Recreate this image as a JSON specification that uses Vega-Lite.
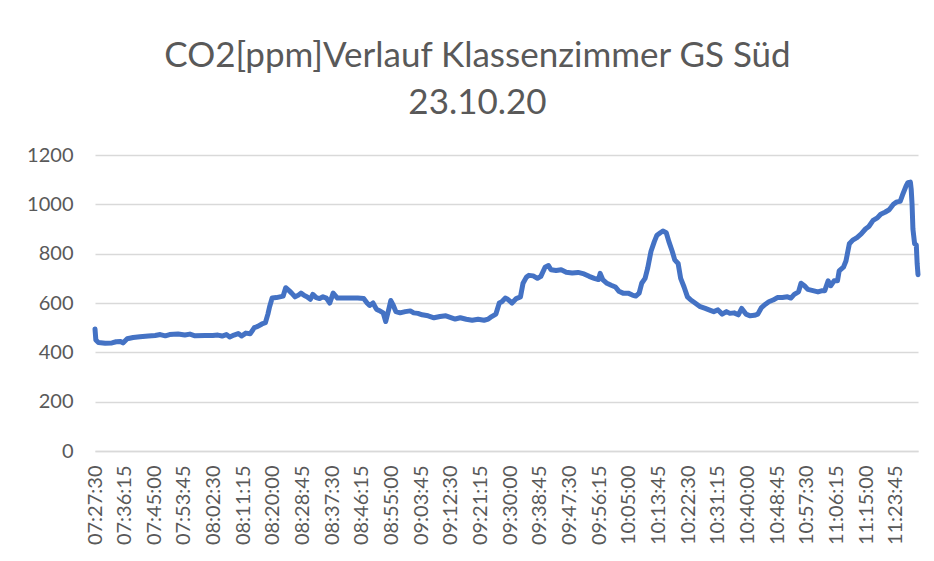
{
  "$schema": "https://vega.github.io/schema/vega-lite/v6.json",
  "width": 823,
  "height": 296,
  "autosize": {"type": "none"},
  "padding": {"left": 95, "top": 155, "right": 16, "bottom": 110},
  "background": "white",
  "title": {
    "text": ["CO2[ppm]Verlauf Klassenzimmer GS Süd", "23.10.20"],
    "font": "Lato",
    "fontSize": 35,
    "fontWeight": "normal",
    "color": "#595959",
    "lineHeight": 47,
    "anchor": "middle",
    "dx": -29,
    "offset": 24
  },
  "config": {
    "view": {"stroke": null},
    "axis": {"labelFont": "Lato", "labelFontSize": 20, "labelColor": "#595959"}
  },
  "data": {
    "format": {"parse": {"t": "date:'%H:%M:%S'"}},
    "values": [
      {"t": "07:27:30", "co2": 495}, {"t": "07:27:45", "co2": 450}, {"t": "07:28:30", "co2": 440},
      {"t": "07:30:30", "co2": 437}, {"t": "07:32:30", "co2": 438}, {"t": "07:33:45", "co2": 443},
      {"t": "07:35:00", "co2": 444}, {"t": "07:35:45", "co2": 438}, {"t": "07:37:00", "co2": 455},
      {"t": "07:38:45", "co2": 460}, {"t": "07:40:45", "co2": 463}, {"t": "07:43:15", "co2": 466},
      {"t": "07:45:15", "co2": 468}, {"t": "07:46:45", "co2": 472}, {"t": "07:48:15", "co2": 467},
      {"t": "07:49:30", "co2": 472}, {"t": "07:52:00", "co2": 474}, {"t": "07:54:00", "co2": 470},
      {"t": "07:55:30", "co2": 474}, {"t": "07:57:00", "co2": 467}, {"t": "08:00:00", "co2": 468},
      {"t": "08:02:15", "co2": 468}, {"t": "08:03:45", "co2": 470}, {"t": "08:05:00", "co2": 466},
      {"t": "08:06:15", "co2": 472}, {"t": "08:07:15", "co2": 462}, {"t": "08:08:30", "co2": 470},
      {"t": "08:09:45", "co2": 476}, {"t": "08:10:45", "co2": 466}, {"t": "08:12:00", "co2": 478},
      {"t": "08:13:15", "co2": 475}, {"t": "08:14:30", "co2": 500}, {"t": "08:15:30", "co2": 505},
      {"t": "08:16:45", "co2": 515}, {"t": "08:17:45", "co2": 520}, {"t": "08:18:30", "co2": 555},
      {"t": "08:19:00", "co2": 585}, {"t": "08:19:45", "co2": 620}, {"t": "08:21:00", "co2": 622},
      {"t": "08:22:00", "co2": 625}, {"t": "08:23:00", "co2": 628}, {"t": "08:23:45", "co2": 662},
      {"t": "08:24:45", "co2": 650}, {"t": "08:25:30", "co2": 640}, {"t": "08:26:30", "co2": 625},
      {"t": "08:27:30", "co2": 632}, {"t": "08:28:15", "co2": 640}, {"t": "08:29:15", "co2": 630},
      {"t": "08:30:00", "co2": 625}, {"t": "08:31:00", "co2": 615}, {"t": "08:31:45", "co2": 635},
      {"t": "08:32:45", "co2": 622}, {"t": "08:33:45", "co2": 618}, {"t": "08:34:45", "co2": 625},
      {"t": "08:35:45", "co2": 620}, {"t": "08:36:45", "co2": 600}, {"t": "08:37:45", "co2": 640},
      {"t": "08:39:00", "co2": 620}, {"t": "08:40:15", "co2": 620}, {"t": "08:42:45", "co2": 620},
      {"t": "08:45:00", "co2": 620}, {"t": "08:46:45", "co2": 618}, {"t": "08:47:45", "co2": 600},
      {"t": "08:48:30", "co2": 590}, {"t": "08:49:30", "co2": 600}, {"t": "08:50:30", "co2": 575},
      {"t": "08:51:15", "co2": 570}, {"t": "08:52:30", "co2": 560}, {"t": "08:53:15", "co2": 525},
      {"t": "08:54:15", "co2": 580}, {"t": "08:54:45", "co2": 610}, {"t": "08:55:30", "co2": 590},
      {"t": "08:56:15", "co2": 565}, {"t": "08:57:30", "co2": 560}, {"t": "08:59:00", "co2": 565},
      {"t": "09:00:30", "co2": 568}, {"t": "09:01:30", "co2": 560}, {"t": "09:02:45", "co2": 558},
      {"t": "09:04:00", "co2": 552}, {"t": "09:05:45", "co2": 548}, {"t": "09:07:30", "co2": 540},
      {"t": "09:09:15", "co2": 545}, {"t": "09:11:00", "co2": 548}, {"t": "09:12:15", "co2": 542},
      {"t": "09:13:45", "co2": 535}, {"t": "09:15:15", "co2": 540}, {"t": "09:17:00", "co2": 534},
      {"t": "09:18:45", "co2": 530}, {"t": "09:20:30", "co2": 534}, {"t": "09:22:15", "co2": 530},
      {"t": "09:23:30", "co2": 535}, {"t": "09:24:30", "co2": 545}, {"t": "09:25:45", "co2": 555},
      {"t": "09:26:45", "co2": 600}, {"t": "09:27:30", "co2": 605}, {"t": "09:28:30", "co2": 620},
      {"t": "09:29:15", "co2": 615}, {"t": "09:30:30", "co2": 600}, {"t": "09:31:45", "co2": 618},
      {"t": "09:33:00", "co2": 625}, {"t": "09:33:45", "co2": 680}, {"t": "09:34:45", "co2": 705},
      {"t": "09:35:30", "co2": 712}, {"t": "09:36:45", "co2": 710}, {"t": "09:38:00", "co2": 700},
      {"t": "09:39:00", "co2": 708}, {"t": "09:40:15", "co2": 745}, {"t": "09:41:15", "co2": 752},
      {"t": "09:42:00", "co2": 735}, {"t": "09:43:30", "co2": 732}, {"t": "09:45:00", "co2": 735},
      {"t": "09:46:30", "co2": 725}, {"t": "09:48:15", "co2": 722}, {"t": "09:50:00", "co2": 724},
      {"t": "09:51:45", "co2": 718}, {"t": "09:53:15", "co2": 708}, {"t": "09:54:45", "co2": 700},
      {"t": "09:56:00", "co2": 695}, {"t": "09:56:30", "co2": 720}, {"t": "09:57:15", "co2": 695},
      {"t": "09:58:30", "co2": 680}, {"t": "09:59:45", "co2": 672}, {"t": "10:01:00", "co2": 665},
      {"t": "10:02:00", "co2": 648}, {"t": "10:03:15", "co2": 640}, {"t": "10:04:45", "co2": 640},
      {"t": "10:06:00", "co2": 632}, {"t": "10:07:00", "co2": 628}, {"t": "10:08:00", "co2": 640},
      {"t": "10:08:45", "co2": 680}, {"t": "10:09:45", "co2": 700}, {"t": "10:10:30", "co2": 740},
      {"t": "10:11:30", "co2": 810}, {"t": "10:12:30", "co2": 850}, {"t": "10:13:15", "co2": 875},
      {"t": "10:14:15", "co2": 885}, {"t": "10:15:00", "co2": 892}, {"t": "10:16:00", "co2": 885},
      {"t": "10:16:45", "co2": 850}, {"t": "10:17:45", "co2": 810}, {"t": "10:18:30", "co2": 775},
      {"t": "10:19:30", "co2": 760}, {"t": "10:20:15", "co2": 700}, {"t": "10:21:15", "co2": 665},
      {"t": "10:22:15", "co2": 625}, {"t": "10:23:15", "co2": 612}, {"t": "10:24:30", "co2": 600},
      {"t": "10:26:00", "co2": 585}, {"t": "10:27:30", "co2": 578}, {"t": "10:29:00", "co2": 570},
      {"t": "10:30:00", "co2": 565}, {"t": "10:31:15", "co2": 572}, {"t": "10:32:30", "co2": 555},
      {"t": "10:33:45", "co2": 565}, {"t": "10:34:45", "co2": 558}, {"t": "10:36:00", "co2": 560},
      {"t": "10:37:15", "co2": 552}, {"t": "10:38:15", "co2": 578}, {"t": "10:39:30", "co2": 555},
      {"t": "10:40:45", "co2": 548}, {"t": "10:42:00", "co2": 550}, {"t": "10:43:00", "co2": 555},
      {"t": "10:44:00", "co2": 580}, {"t": "10:45:15", "co2": 595}, {"t": "10:46:15", "co2": 605},
      {"t": "10:47:30", "co2": 612}, {"t": "10:48:45", "co2": 622}, {"t": "10:50:15", "co2": 622},
      {"t": "10:51:45", "co2": 625}, {"t": "10:52:45", "co2": 620}, {"t": "10:53:45", "co2": 635},
      {"t": "10:55:00", "co2": 645}, {"t": "10:55:45", "co2": 680}, {"t": "10:56:45", "co2": 670},
      {"t": "10:57:45", "co2": 655}, {"t": "10:59:15", "co2": 650}, {"t": "11:00:45", "co2": 645},
      {"t": "11:02:00", "co2": 650}, {"t": "11:02:45", "co2": 650}, {"t": "11:03:45", "co2": 690},
      {"t": "11:04:30", "co2": 670}, {"t": "11:05:30", "co2": 690}, {"t": "11:06:30", "co2": 690},
      {"t": "11:07:00", "co2": 730}, {"t": "11:08:15", "co2": 745}, {"t": "11:09:00", "co2": 770},
      {"t": "11:10:00", "co2": 840}, {"t": "11:11:00", "co2": 855}, {"t": "11:12:15", "co2": 865},
      {"t": "11:13:30", "co2": 880}, {"t": "11:14:45", "co2": 900}, {"t": "11:15:45", "co2": 910},
      {"t": "11:17:00", "co2": 935}, {"t": "11:18:15", "co2": 945}, {"t": "11:19:15", "co2": 960},
      {"t": "11:20:30", "co2": 968}, {"t": "11:21:45", "co2": 978}, {"t": "11:23:00", "co2": 1000},
      {"t": "11:24:00", "co2": 1010}, {"t": "11:25:00", "co2": 1012}, {"t": "11:25:45", "co2": 1040},
      {"t": "11:26:45", "co2": 1075}, {"t": "11:27:15", "co2": 1088}, {"t": "11:28:00", "co2": 1090},
      {"t": "11:28:15", "co2": 1060}, {"t": "11:28:30", "co2": 1000}, {"t": "11:28:45", "co2": 900},
      {"t": "11:29:15", "co2": 840}, {"t": "11:29:45", "co2": 835}, {"t": "11:30:00", "co2": 760},
      {"t": "11:30:15", "co2": 715}
    ]
  },
  "mark": {"type": "line", "color": "#4472C4", "strokeWidth": 5, "strokeJoin": "round", "strokeCap": "round"},
  "encoding": {
    "x": {
      "field": "t",
      "type": "temporal",
      "title": null,
      "scale": {
        "nice": false,
        "domain": [
          {"year": 1900, "month": 1, "date": 1, "hours": 7, "minutes": 27, "seconds": 30},
          {"year": 1900, "month": 1, "date": 1, "hours": 11, "minutes": 30, "seconds": 15}
        ]
      },
      "axis": {
        "format": "%H:%M:%S",
        "labelAngle": -90,
        "labelPadding": 14,
        "ticks": false,
        "grid": false,
        "domainColor": "#d9d9d9",
        "domainWidth": 1.5,
        "labelOverlap": false,
        "labelFlush": false,
        "values": [
          {"year": 1900, "month": 1, "date": 1, "hours": 7, "minutes": 27, "seconds": 30},
          {"year": 1900, "month": 1, "date": 1, "hours": 7, "minutes": 36, "seconds": 15},
          {"year": 1900, "month": 1, "date": 1, "hours": 7, "minutes": 45, "seconds": 0},
          {"year": 1900, "month": 1, "date": 1, "hours": 7, "minutes": 53, "seconds": 45},
          {"year": 1900, "month": 1, "date": 1, "hours": 8, "minutes": 2, "seconds": 30},
          {"year": 1900, "month": 1, "date": 1, "hours": 8, "minutes": 11, "seconds": 15},
          {"year": 1900, "month": 1, "date": 1, "hours": 8, "minutes": 20, "seconds": 0},
          {"year": 1900, "month": 1, "date": 1, "hours": 8, "minutes": 28, "seconds": 45},
          {"year": 1900, "month": 1, "date": 1, "hours": 8, "minutes": 37, "seconds": 30},
          {"year": 1900, "month": 1, "date": 1, "hours": 8, "minutes": 46, "seconds": 15},
          {"year": 1900, "month": 1, "date": 1, "hours": 8, "minutes": 55, "seconds": 0},
          {"year": 1900, "month": 1, "date": 1, "hours": 9, "minutes": 3, "seconds": 45},
          {"year": 1900, "month": 1, "date": 1, "hours": 9, "minutes": 12, "seconds": 30},
          {"year": 1900, "month": 1, "date": 1, "hours": 9, "minutes": 21, "seconds": 15},
          {"year": 1900, "month": 1, "date": 1, "hours": 9, "minutes": 30, "seconds": 0},
          {"year": 1900, "month": 1, "date": 1, "hours": 9, "minutes": 38, "seconds": 45},
          {"year": 1900, "month": 1, "date": 1, "hours": 9, "minutes": 47, "seconds": 30},
          {"year": 1900, "month": 1, "date": 1, "hours": 9, "minutes": 56, "seconds": 15},
          {"year": 1900, "month": 1, "date": 1, "hours": 10, "minutes": 5, "seconds": 0},
          {"year": 1900, "month": 1, "date": 1, "hours": 10, "minutes": 13, "seconds": 45},
          {"year": 1900, "month": 1, "date": 1, "hours": 10, "minutes": 22, "seconds": 30},
          {"year": 1900, "month": 1, "date": 1, "hours": 10, "minutes": 31, "seconds": 15},
          {"year": 1900, "month": 1, "date": 1, "hours": 10, "minutes": 40, "seconds": 0},
          {"year": 1900, "month": 1, "date": 1, "hours": 10, "minutes": 48, "seconds": 45},
          {"year": 1900, "month": 1, "date": 1, "hours": 10, "minutes": 57, "seconds": 30},
          {"year": 1900, "month": 1, "date": 1, "hours": 11, "minutes": 6, "seconds": 15},
          {"year": 1900, "month": 1, "date": 1, "hours": 11, "minutes": 15, "seconds": 0},
          {"year": 1900, "month": 1, "date": 1, "hours": 11, "minutes": 23, "seconds": 45}
        ]
      }
    },
    "y": {
      "field": "co2",
      "type": "quantitative",
      "title": null,
      "scale": {"domain": [0, 1200], "nice": false},
      "axis": {
        "values": [0, 200, 400, 600, 800, 1000, 1200],
        "format": "d",
        "domain": false,
        "ticks": false,
        "labelPadding": 22,
        "gridColor": "#d9d9d9",
        "gridWidth": 1.5
      }
    }
  }
}
